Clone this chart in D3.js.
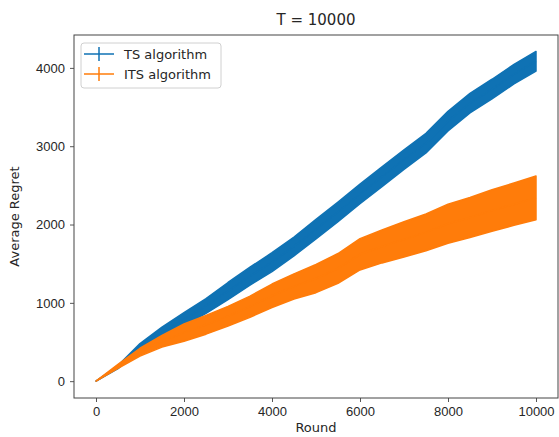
<!DOCTYPE html>
<html>
<head>
<meta charset="utf-8">
<script src="https://cdn.jsdelivr.net/npm/d3@7"></script>
<style>
  body { margin: 0; background: #fff; }
  svg { display: block; font-family: "DejaVu Sans", sans-serif; }
</style>
</head>
<body>
<div id="chart"></div>
<script>
// rounds sampled every 500
const rounds = [0, 500, 1000, 1500, 2000, 2500, 3000, 3500, 4000, 4500, 5000,
                5500, 6000, 6500, 7000, 7500, 8000, 8500, 9000, 9500, 10000];

const tsMean = [0, 180, 440, 620, 790, 960, 1150, 1340, 1520, 1720, 1940,
                2160, 2390, 2610, 2830, 3040, 3320, 3550, 3730, 3920, 4085];
const tsErr  = [0, 20, 40, 70, 85, 95, 110, 115, 120, 120, 125,
                125, 125, 125, 125, 125, 125, 125, 125, 125, 125];

const itsMean = [0, 190, 370, 510, 620, 720, 830, 950, 1090, 1210, 1310,
                 1440, 1620, 1720, 1810, 1900, 2010, 2090, 2180, 2260, 2340];
const itsErr  = [0, 25, 50, 75, 110, 120, 125, 135, 150, 160, 180,
                 190, 200, 210, 225, 235, 250, 255, 265, 270, 280];

const xTicks = [0, 2000, 4000, 6000, 8000, 10000];
const yTicks = [0, 1000, 2000, 3000, 4000];

const seriesNames = ["TS algorithm", "ITS algorithm"];
const colors = ["#0f72b4", "#ff7c0a"];

const width = 559, height = 437;
const margin = { left: 74, right: 1, top: 35, bottom: 39 };
const textColor = "#262626";

const svg = d3.select("#chart").append("svg")
    .attr("width", width)
    .attr("height", height);

const x = d3.scaleLinear().domain([-500, 10500]).range([margin.left, width - margin.right]);
const y = d3.scaleLinear().domain([-215, 4420]).range([height - margin.bottom, margin.top]);

const series = [
    { mean: tsMean, err: tsErr },
    { mean: itsMean, err: itsErr }
];

// error bands + mean lines
series.forEach((s, i) => {
    const pts = rounds.map((r, k) => ({ r, m: s.mean[k], e: s.err[k] }));
    const area = d3.area()
        .x(d => x(d.r))
        .y0(d => y(d.m - d.e))
        .y1(d => y(d.m + d.e));
    svg.append("path")
        .datum(pts)
        .attr("d", area)
        .attr("fill", colors[i])
        .attr("stroke", colors[i])
        .attr("stroke-width", 1.5)
        .attr("stroke-linejoin", "round");
    svg.append("path")
        .datum(pts)
        .attr("d", d3.line().x(d => x(d.r)).y(d => y(d.m)))
        .attr("fill", "none")
        .attr("stroke", colors[i])
        .attr("stroke-width", 1.5);
});

// axes
const xAxis = svg.append("g")
    .attr("transform", `translate(0,${height - margin.bottom})`)
    .call(d3.axisBottom(x).tickValues(xTicks).tickSize(4).tickPadding(5).tickFormat(d3.format("d")));
const yAxis = svg.append("g")
    .attr("transform", `translate(${margin.left},0)`)
    .call(d3.axisLeft(y).tickValues(yTicks).tickSize(4).tickPadding(5).tickFormat(d3.format("d")));

[xAxis, yAxis].forEach(g => {
    g.select(".domain").remove();
    g.selectAll("line").attr("stroke", "#444").attr("stroke-width", 0.9);
    g.selectAll("text").attr("fill", textColor).attr("font-size", 13);
});

// frame
svg.append("rect")
    .attr("x", margin.left)
    .attr("y", margin.top)
    .attr("width", width - margin.right - margin.left)
    .attr("height", height - margin.bottom - margin.top)
    .attr("fill", "none")
    .attr("stroke", "#444")
    .attr("stroke-width", 1);

// title and labels
svg.append("text")
    .attr("x", (margin.left + width - margin.right) / 2)
    .attr("y", 25)
    .attr("text-anchor", "middle")
    .attr("fill", textColor)
    .attr("font-size", 15)
    .text("T = 10000");

svg.append("text")
    .attr("x", (margin.left + width - margin.right) / 2)
    .attr("y", 432)
    .attr("text-anchor", "middle")
    .attr("fill", textColor)
    .attr("font-size", 13)
    .text("Round");

svg.append("text")
    .attr("transform", `translate(19,${(margin.top + height - margin.bottom) / 2}) rotate(-90)`)
    .attr("text-anchor", "middle")
    .attr("fill", textColor)
    .attr("font-size", 13)
    .text("Average Regret");

// legend
const legend = svg.append("g").attr("transform", "translate(81,43)");
legend.append("rect")
    .attr("width", 140)
    .attr("height", 45)
    .attr("rx", 3)
    .attr("fill", "rgba(255,255,255,0.8)")
    .attr("stroke", "#d0d0d0")
    .attr("stroke-width", 1);

seriesNames.forEach((name, i) => {
    const ly = 11 + i * 20;
    legend.append("line")
        .attr("x1", 3).attr("x2", 33)
        .attr("y1", ly).attr("y2", ly)
        .attr("stroke", colors[i]).attr("stroke-width", 1.5);
    legend.append("line")
        .attr("x1", 18).attr("x2", 18)
        .attr("y1", ly - 7).attr("y2", ly + 7)
        .attr("stroke", colors[i]).attr("stroke-width", 1.5);
    legend.append("text")
        .attr("x", 43)
        .attr("y", ly + 5)
        .attr("fill", textColor)
        .attr("font-size", 13)
        .text(name);
});
</script>
</body>
</html>
